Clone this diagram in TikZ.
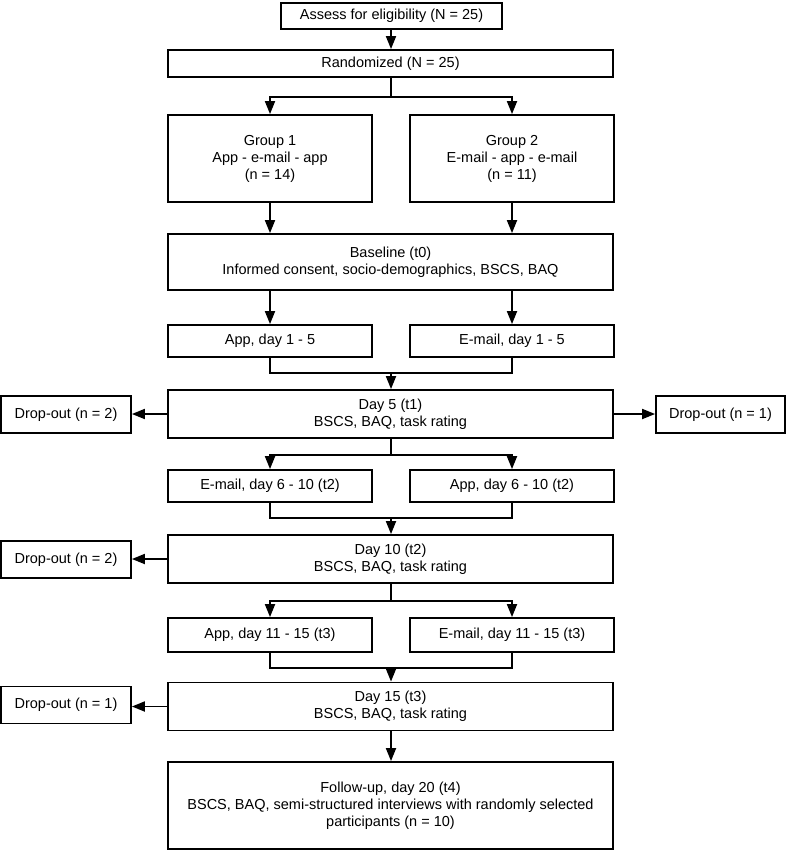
\documentclass[tikz,border=0pt]{standalone}
\usepackage{fontspec}
\setmainfont{Liberation Sans}
\usetikzlibrary{arrows.meta,calc,positioning}

\begin{document}
\begin{tikzpicture}[x=1pt,y=-1pt,>={Triangle[length=13pt,width=10pt]},
    box/.style={draw,line width=1.8pt,align=center,inner sep=2pt,font=\fontsize{14.5}{17}\selectfont},
    wide/.style={box,minimum width=445pt},
    half/.style={box,minimum width=204pt,minimum height=32pt},
    drop/.style={box,minimum width=130pt,minimum height=37pt},
    link/.style={line width=1.8pt}]
    \useasboundingbox (0,0) rectangle (787,851);
    \node[box,minimum width=221pt,minimum height=26pt] (assess) at (391.5,16) {Assess for eligibility (N = 25)};
    \node[wide,minimum height=27pt] (rand) at (390.5,63.5) {Randomized (N = 25)};
    \node[half,minimum height=87pt] (g1) at (270,158.5) {Group 1\\App - e-mail - app\\(n = 14)};
    \node[half,minimum height=87pt] (g2) at (512,158.5) {Group 2\\E-mail - app - e-mail\\(n = 11)};
    \node[wide,minimum height=56pt] (base) at (390.5,262) {Baseline (t0)\\Informed consent, socio-demographics, BSCS, BAQ};
    \node[half] (app1) at (270,341) {App, day 1 - 5};
    \node[half] (mail1) at (512,341) {E-mail, day 1 - 5};
    \node[wide,minimum height=48pt] (day5) at (390.5,414) {Day 5 (t1)\\BSCS, BAQ, task rating};
    \node[drop] (dropA) at (66,414.5) {Drop-out (n = 2)};
    \node[drop,minimum width=129pt] (dropB) at (720.5,414.5) {Drop-out (n = 1)};
    \node[half] (mail2) at (270,486) {E-mail, day 6 - 10 (t2)};
    \node[half] (app2) at (512,486) {App, day 6 - 10 (t2)};
    \node[wide,minimum height=48pt] (day10) at (390.5,559) {Day 10 (t2)\\BSCS, BAQ, task rating};
    \node[drop] (dropC) at (66,559.5) {Drop-out (n = 2)};
    \node[half,minimum height=34pt] (app3) at (270,635) {App, day 11 - 15 (t3)};
    \node[half,minimum height=34pt] (mail3) at (512,635) {E-mail, day 11 - 15 (t3)};
    \node[wide,minimum height=48pt] (day15) at (390.5,706.5) {Day 15 (t3)\\BSCS, BAQ, task rating};
    \node[drop] (dropD) at (66,705) {Drop-out (n = 1)};
    \node[wide,minimum height=87pt] (follow) at (390.5,805.5) {Follow-up, day 20 (t4)\\BSCS, BAQ, semi-structured interviews with randomly selected\\participants (n = 10)};
    \coordinate (s1) at (391,97);
    \coordinate (m1) at (391,373);
    \coordinate (s2) at (391,455);
    \coordinate (m2) at (391,518);
    \coordinate (s3) at (391,601);
    \coordinate (m3) at (391,668);
    \draw[link,->] (assess.south -| s1) -- (rand.north -| s1);
    \draw[link] (rand.south -| s1) -- (s1);
    \draw[link,->] (s1) -| (g1.north);
    \draw[link,->] (s1) -| (g2.north);
    \draw[link,->] (g1.south) -- (g1.south |- base.north);
    \draw[link,->] (g2.south) -- (g2.south |- base.north);
    \draw[link,->] (base.south -| app1) -- (app1.north);
    \draw[link,->] (base.south -| mail1) -- (mail1.north);
    \draw[link] (app1.south) |- (m1) -| (mail1.south);
    \draw[link,->] (m1) -- (day5.north -| m1);
    \draw[link,->] (day5.west) -- (day5.west -| dropA.east);
    \draw[link,->] (day5.east) -- (day5.east -| dropB.west);
    \draw[link] (day5.south -| s2) -- (s2);
    \draw[link,->] (s2) -| (mail2.north);
    \draw[link,->] (s2) -| (app2.north);
    \draw[link] (mail2.south) |- (m2) -| (app2.south);
    \draw[link,->] (m2) -- (day10.north -| m2);
    \draw[link,->] (day10.west) -- (day10.west -| dropC.east);
    \draw[link] (day10.south -| s3) -- (s3);
    \draw[link,->] (s3) -| (app3.north);
    \draw[link,->] (s3) -| (mail3.north);
    \draw[link] (app3.south) |- (m3) -| (mail3.south);
    \draw[link,->] (m3) -- (day15.north -| m3);
    \draw[link,->] (day15.west) -- (day15.west -| dropD.east);
    \draw[link,->] (day15.south -| m3) -- (follow.north -| m3);
\end{tikzpicture}
\end{document}
